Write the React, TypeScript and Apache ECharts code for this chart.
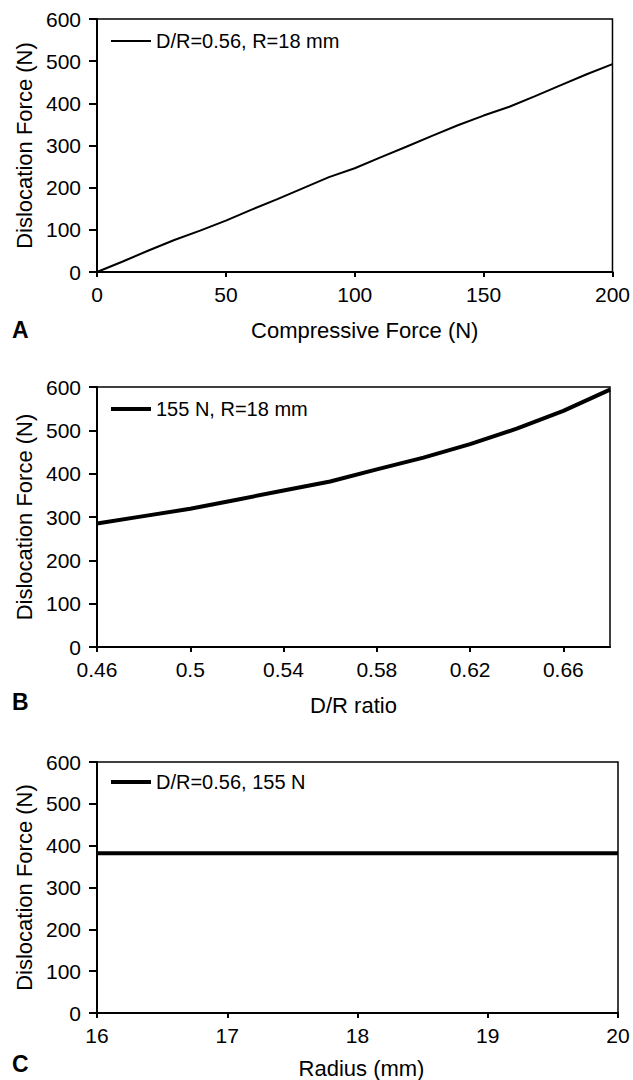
import React, { useEffect, useRef } from "react";
import * as echarts from "echarts";

const forceX = [0, 10, 20, 30, 40, 50, 60, 70, 80, 90, 100, 110, 120, 130, 140, 150, 160, 170, 180, 190, 200];
const forceY = [0, 25, 51, 76, 98, 122, 148, 173, 199, 225, 246, 272, 297, 323, 348, 371, 392, 417, 443, 469, 493];

const ratioX = [0.46, 0.48, 0.5, 0.52, 0.54, 0.56, 0.58, 0.6, 0.62, 0.64, 0.66, 0.68];
const ratioY = [285, 302, 319, 340, 361, 382, 410, 437, 468, 504, 545, 594];
const ratioTicks = [0.46, 0.5, 0.54, 0.58, 0.62, 0.66];

const radiusX = [16, 17, 18, 19, 20];
const radiusY = [382, 382, 382, 382, 382];

const yTicks = [0, 100, 200, 300, 400, 500, 600];

const seriesNames = ["D/R=0.56, R=18 mm", "155 N, R=18 mm", "D/R=0.56, 155 N"];
const xTitles = ["Compressive Force (N)", "D/R ratio", "Radius (mm)"];
const yTitle = "Dislocation Force (N)";
const panelLetters = ["A", "B", "C"];

const FONT = "'Liberation Sans', Arial, sans-serif";

export default function App() {
  const ref = useRef<HTMLDivElement>(null);
  useEffect(() => {
    if (!ref.current) return;
    const chart = echarts.init(ref.current, undefined, { renderer: "svg" });
    const grids = [
      { left: 97, top: 19, width: 516, height: 253 },
      { left: 97, top: 387, width: 513, height: 260 },
      { left: 97, top: 762, width: 521, height: 252 },
    ];
    const xRanges = [
      { min: 0, max: 200, interval: 50 },
      { min: 0.46, max: 0.68 },
      { min: 16, max: 20, interval: 1 },
    ];
    const xNamePad = [[0, 0, 0, 20], [0, 0, 0, 0], [0, 0, 0, 8]];
    const xAxis = xRanges.map((r, i) => ({
      type: "value",
      gridIndex: i,
      min: r.min,
      max: r.max,
      interval: (r as any).interval,
      name: xTitles[i],
      nameLocation: "middle",
      nameGap: i === 2 ? 44 : 47,
      nameTextStyle: { fontFamily: FONT, fontSize: 22, color: "#000", padding: xNamePad[i] },
      axisLine: { show: true, lineStyle: { color: "#000", width: 2 } },
      axisTick: i === 1
        ? { show: true, inside: false, length: 5, lineStyle: { color: "#000", width: 2 }, customValues: ratioTicks }
        : { show: true, inside: false, length: 5, lineStyle: { color: "#000", width: 2 } },
      axisLabel: i === 1
        ? { fontFamily: FONT, fontSize: 21, color: "#000", margin: 12, customValues: ratioTicks, formatter: (v: number) => String(Number(v.toFixed(2))) }
        : { fontFamily: FONT, fontSize: 21, color: "#000", margin: 12 },
      splitLine: { show: false },
    }));
    const yAxis = grids.map((_, i) => ({
      type: "value",
      gridIndex: i,
      min: 0,
      max: 600,
      interval: 100,
      name: yTitle,
      nameLocation: "middle",
      nameGap: 62,
      nameTextStyle: { fontFamily: FONT, fontSize: 22, color: "#000" },
      axisLine: { show: true, lineStyle: { color: "#000", width: 2 } },
      axisTick: { show: true, inside: false, length: 8, lineStyle: { color: "#000", width: 2 } },
      axisLabel: { fontFamily: FONT, fontSize: 21, color: "#000", margin: 16 },
      splitLine: { show: false },
    }));
    const xs = [forceX, ratioX, radiusX];
    const ys = [forceY, ratioY, radiusY];
    const widths = [2, 4, 4];
    const series = xs.map((xv, i) => ({
      type: "line",
      name: seriesNames[i],
      xAxisIndex: i,
      yAxisIndex: i,
      data: xv.map((x, k) => [x, ys[i][k]]),
      showSymbol: false,
      symbol: "none",
      lineStyle: { color: "#000", width: widths[i] },
      itemStyle: { color: "#000" },
      clip: false,
    }));
    const legendTops = [31, 399, 772];
    const legend = seriesNames.map((n, i) => ({
      data: [n],
      left: 111,
      top: legendTops[i],
      icon: "rect",
      itemWidth: 40,
      itemHeight: widths[i],
      textStyle: { fontFamily: FONT, fontSize: 20, color: "#000" },
      padding: 0,
      selectedMode: false,
    }));
    const letterY = [330, 702, 1064];
    const graphic = panelLetters.map((l, i) => ({
      type: "text",
      left: 12,
      top: letterY[i] - 12,
      style: { text: l, fontFamily: FONT, fontSize: 23, fontWeight: "bold", fill: "#000" },
    }));
    chart.setOption({
      animation: false,
      backgroundColor: "#fff",
      grid: grids.map((g) => ({ ...g, show: true, borderColor: "#000", borderWidth: 1.5, backgroundColor: "transparent" })),
      xAxis,
      yAxis,
      series,
      legend,
      graphic,
    });
    return () => chart.dispose();
  }, []);
  return (
    <div
      ref={ref}
      style={{ position: "absolute", left: 0, top: 0, width: 633, height: 1080, background: "#fff" }}
    />
  );
}
